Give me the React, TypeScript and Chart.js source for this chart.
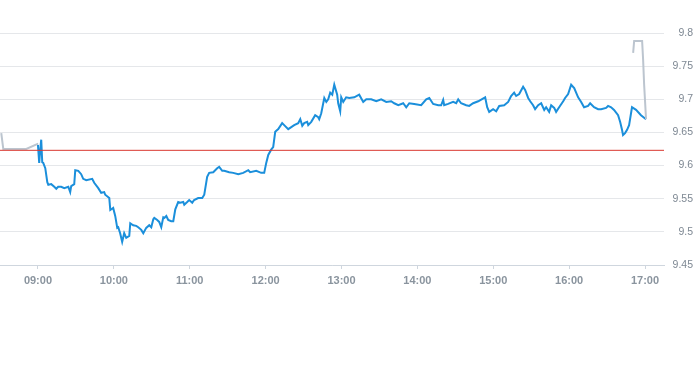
import { useEffect, useRef } from "react";
import { Chart, registerables } from "chart.js";

Chart.register(...registerables);

// Minutes of the day
const OPEN_MINUTE = 540; // 09:00
const X_MIN = 510; // 08:30
const X_MAX = 1035; // 17:15

const hourTickLabels = ["09:00", "10:00", "11:00", "12:00", "13:00", "14:00", "15:00", "16:00", "17:00"];
const yTickValues = [9.45, 9.5, 9.55, 9.6, 9.65, 9.7, 9.75, 9.8];
const prevClose = 9.623;

// Pre-market (minutes after 09:00)
const preTimes = [-29, -27.4, -9.2, 0.2];
const prePrices = [9.649, 9.625, 9.625, 9.633];

// Regular session (minutes after 09:00)
const sessionTimes = [
  0, 1, 1.8, 2.6, 3.4, 4.2, 5.8, 7.4, 8.2, 10.5,
  12.9, 14.5, 16, 18.4, 20.8, 24, 25.5, 26.3, 28.7, 29.5,
  31.9, 34.2, 35.8, 38.2, 42.9, 44.5, 47.7, 50, 52.4, 53.2,
  56.4, 57.2, 59.5, 61.1, 62.7, 63.5, 65, 66.6, 68.2, 69.8,
  72.2, 73, 75.3, 77.7, 79.3, 81.7, 83.3, 85.6, 88, 89.6,
  91.2, 92, 94.3, 95.9, 97.5, 99.1, 99.9, 101.5, 103, 105.4,
  107, 108.6, 110.9, 112.5, 114.9, 115.7, 118, 119.6, 122, 123.5,
  126.7, 129.9, 131.5, 133.8, 135.4, 138.6, 141.7, 143.3, 145.7, 147.3,
  151.2, 154.4, 158.4, 162.3, 166.3, 167.8, 172.6, 176.5, 178.9, 180.5,
  182.1, 184.4, 186, 187.6, 190, 193.1, 194.7, 197.9, 200.3, 202.6,
  205.8, 207.4, 209, 210.5, 212.9, 213.7, 216.1, 219.2, 221.6, 222.4,
  224, 226.4, 228, 229.5, 231.1, 232.7, 234.3, 236.6, 237.4, 239,
  239.8, 241.4, 243.7, 246.1, 250.1, 254, 257.2, 259.6, 263.5, 267.5,
  271.4, 275.4, 279.3, 281.7, 284.9, 288.8, 291.2, 293.6, 297.5, 303,
  307, 309.4, 312.5, 316.5, 318.8, 320.4, 321.2, 324.3, 328.3, 330.7,
  332.3, 334.6, 338.6, 341, 344.1, 348.1, 353.6, 355.2, 356.8, 359.9,
  362.3, 364.7, 368.6, 371.8, 374.1, 376.5, 378.1, 380.5, 383.6, 385.2,
  387.6, 389.2, 391.5, 393.1, 395.5, 397.9, 400.3, 401.8, 404.2, 405.8,
  408.2, 409.7, 412.1, 415.3, 416.8, 419.2, 421.6, 424, 427.1, 429.5,
  431.8, 435, 436.6, 439.7, 442.9, 445.3, 449.2, 450.8, 453.2, 455.5,
  458.7, 460.3, 461.8, 462.6, 464.2, 465.8, 467.4, 469.7, 472.9, 476.8, 480.8,
];
const sessionPrices = [
  9.631, 9.604, 9.624, 9.639, 9.605, 9.604, 9.596, 9.575, 9.571, 9.572,
  9.568, 9.565, 9.568, 9.568, 9.566, 9.568, 9.56, 9.569, 9.572, 9.593,
  9.592, 9.587, 9.58, 9.578, 9.58, 9.574, 9.566, 9.559, 9.56, 9.556,
  9.551, 9.533, 9.536, 9.524, 9.506, 9.507, 9.498, 9.485, 9.498, 9.491,
  9.494, 9.513, 9.51, 9.509, 9.507, 9.503, 9.498, 9.506, 9.51, 9.507,
  9.519, 9.521, 9.518, 9.515, 9.507, 9.522, 9.521, 9.524, 9.518, 9.516,
  9.516, 9.534, 9.545, 9.544, 9.545, 9.541, 9.545, 9.548, 9.544, 9.548,
  9.551, 9.551, 9.556, 9.583, 9.589, 9.59, 9.596, 9.598, 9.592, 9.592,
  9.59, 9.589, 9.587, 9.589, 9.593, 9.59, 9.592, 9.589, 9.589, 9.604,
  9.616, 9.624, 9.628, 9.651, 9.655, 9.664, 9.661, 9.655, 9.658, 9.661,
  9.664, 9.67, 9.66, 9.664, 9.666, 9.661, 9.666, 9.676, 9.673, 9.67,
  9.679, 9.702, 9.696, 9.7, 9.71, 9.707, 9.722, 9.707, 9.694, 9.682,
  9.703, 9.696, 9.703, 9.702, 9.703, 9.707, 9.696, 9.7, 9.7, 9.697,
  9.7, 9.696, 9.697, 9.694, 9.691, 9.694, 9.688, 9.694, 9.693, 9.691,
  9.7, 9.702, 9.693, 9.691, 9.691, 9.699, 9.691, 9.693, 9.696, 9.694,
  9.7, 9.694, 9.691, 9.69, 9.694, 9.697, 9.703, 9.688, 9.681, 9.685,
  9.682, 9.69, 9.691, 9.696, 9.705, 9.71, 9.705, 9.708, 9.719, 9.714,
  9.702, 9.697, 9.691, 9.685, 9.691, 9.694, 9.684, 9.688, 9.681, 9.691,
  9.687, 9.681, 9.688, 9.697, 9.702, 9.708, 9.722, 9.717, 9.703, 9.696,
  9.688, 9.69, 9.694, 9.688, 9.685, 9.685, 9.687, 9.69, 9.688, 9.684,
  9.676, 9.666, 9.654, 9.646, 9.649, 9.654, 9.661, 9.688, 9.684, 9.676, 9.67,
];

// After-hours (minutes after 09:00)
const postTimes = [470.6, 471.4, 477.7, 478.5, 479.3, 480.8];
const postPrices = [9.77, 9.788, 9.788, 9.759, 9.722, 9.67];

const toPoints = (times: number[], prices: number[]) =>
  times.map((t, i) => ({ x: OPEN_MINUTE + t, y: prices[i] }));

const hourToMinute = (label: string) => {
  const [h, m] = label.split(":").map(Number);
  return h * 60 + m;
};
const minuteToLabel = (v: number) => {
  const h = Math.floor(v / 60);
  const m = Math.round(v - h * 60);
  return `${String(h).padStart(2, "0")}:${String(m).padStart(2, "0")}`;
};

const FONT = "'Liberation Sans', Arial, Helvetica, sans-serif";

export default function App() {
  const ref = useRef<HTMLCanvasElement | null>(null);

  useEffect(() => {
    if (!ref.current) return;
    const chart = new Chart(ref.current, {
      type: "line",
      data: {
        datasets: [
          {
            data: [
              { x: X_MIN, y: prevClose },
              { x: X_MAX, y: prevClose },
            ],
            borderColor: "#d9362f",
            borderWidth: 1,
            pointRadius: 0,
            tension: 0,
          },
          {
            data: toPoints(preTimes, prePrices),
            borderColor: "#bcc5cf",
            borderWidth: 2,
            pointRadius: 0,
            tension: 0,
          },
          {
            data: toPoints(postTimes, postPrices),
            borderColor: "#bcc5cf",
            borderWidth: 2,
            pointRadius: 0,
            tension: 0,
          },
          {
            data: toPoints(sessionTimes, sessionPrices),
            borderColor: "#1b8fdb",
            borderWidth: 2,
            pointRadius: 0,
            tension: 0,
          },
        ],
      },
      options: {
        animation: false,
        responsive: false,
        maintainAspectRatio: false,
        events: [],
        layout: { padding: { top: 33, left: 0, right: 0, bottom: 0 } },
        plugins: {
          legend: { display: false },
          tooltip: { enabled: false },
          title: { display: false },
        },
        scales: {
          x: {
            type: "linear",
            min: X_MIN,
            max: X_MAX,
            afterBuildTicks: (scale: any) => {
              scale.ticks = hourTickLabels.map((l) => ({ value: hourToMinute(l) }));
            },
            afterFit: (scale: any) => {
              scale.height = 35;
            },
            grid: {
              drawOnChartArea: false,
              drawTicks: true,
              tickLength: 4,
              color: "#cfd6de",
            },
            border: { display: true, color: "#cfd6de", width: 1 },
            ticks: {
              autoSkip: false,
              maxRotation: 0,
              padding: 5,
              color: "#8a949e",
              font: { family: FONT, size: 11, weight: "bold" },
              callback: (v: any) => minuteToLabel(Number(v)),
            },
          },
          y: {
            type: "linear",
            position: "right",
            min: 9.45,
            max: 9.8,
            afterBuildTicks: (scale: any) => {
              scale.ticks = yTickValues.map((v) => ({ value: v }));
            },
            afterFit: (scale: any) => {
              scale.width = 29;
            },
            grid: {
              drawTicks: false,
              color: "#e5e7ea",
            },
            border: { display: false },
            ticks: {
              crossAlign: "far",
              padding: 0,
              color: "#7e8893",
              font: { family: FONT, size: 10.5 },
              callback: (v: any) => String(Number(Number(v).toFixed(2))),
            },
          },
        },
      },
    } as any);
    return () => chart.destroy();
  }, []);

  return (
    <div style={{ position: "absolute", left: 0, top: 0, width: 693, height: 300, background: "#fff" }}>
      <canvas ref={ref} width={693} height={300} style={{ display: "block" }} />
    </div>
  );
}
